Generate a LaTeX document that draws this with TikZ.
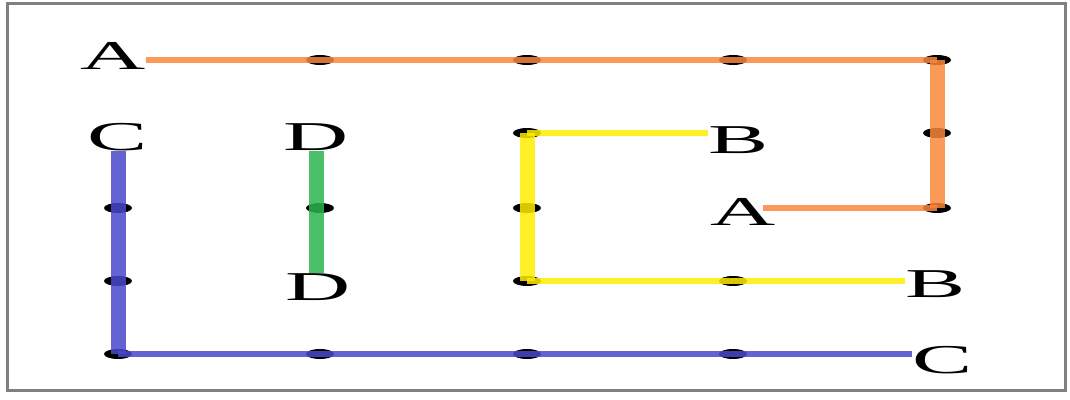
\documentclass[tikz,border=0pt]{standalone}
\usepackage{fontspec}
\setmainfont{Liberation Serif}
\usetikzlibrary{positioning}

\definecolor{pathA}{RGB}{250,135,60}
\definecolor{pathB}{RGB}{255,236,0}
\definecolor{pathC}{RGB}{72,72,205}
\definecolor{pathD}{RGB}{45,180,80}

\tikzset{
	every node/.style={inner sep=0pt, font=\fontsize{41}{41}\selectfont, xscale=2.2},
	hseg/.style={line width=6pt, opacity=0.85},
	vseg/.style={line width=15pt, opacity=0.85},
	dot/.style={fill=black}
}

\begin{document}
\begin{tikzpicture}[x=1pt, y=-1pt]
	\useasboundingbox (0,0) rectangle (1070,399);
	%frame
	\draw[gray, line width=3pt] (7,3) rectangle (1065,390);
	%grid points
	\foreach \c/\x in {1/118,2/320,3/527,4/733,5/937}
	\foreach \r/\y in {1/60,2/133,3/208,4/281,5/354}
	\coordinate (p\c\r) at (\x,\y);
	%labels
	\node (A1) at (113,56) {A};
	\node (A2) at (743,212) {A};
	\node (B1) at (739,140) {B};
	\node (B2) at (936,284) {B};
	\node (C1) at (118,137) {C};
	\node (C2) at (943,360) {C};
	\node (D1) at (316,137) {D};
	\node (D2) at (318,287) {D};
	%dots
	\foreach \p in {p21,p31,p41,p51,p52,p53,p32,p33,p34,p44,p13,p14,p15,p25,p35,p45,p23}
	\fill[dot] (\p) ellipse (14 and 5);
	%paths
	\draw[hseg, pathA] (A1.east |- p11) -- (p51);
	\draw[vseg, pathA] (p51) -- (p53);
	\draw[hseg, pathA, shorten >=-13pt] (p53) -- (A2.east |- p53);
	
	\draw[hseg, pathB] (B1.west |- p32) -- (p32);
	\draw[vseg, pathB] (p32) -- (p34);
	\draw[hseg, pathB] (p34) -- (B2.west |- p34);
	
	\draw[vseg, pathC] (C1.south) -- (p15);
	\draw[hseg, pathC] (p15) -- (C2.west |- p15);
	
	\draw[vseg, pathD] (D1.south) -- (D1.south |- D2.north);
\end{tikzpicture}
\end{document}
